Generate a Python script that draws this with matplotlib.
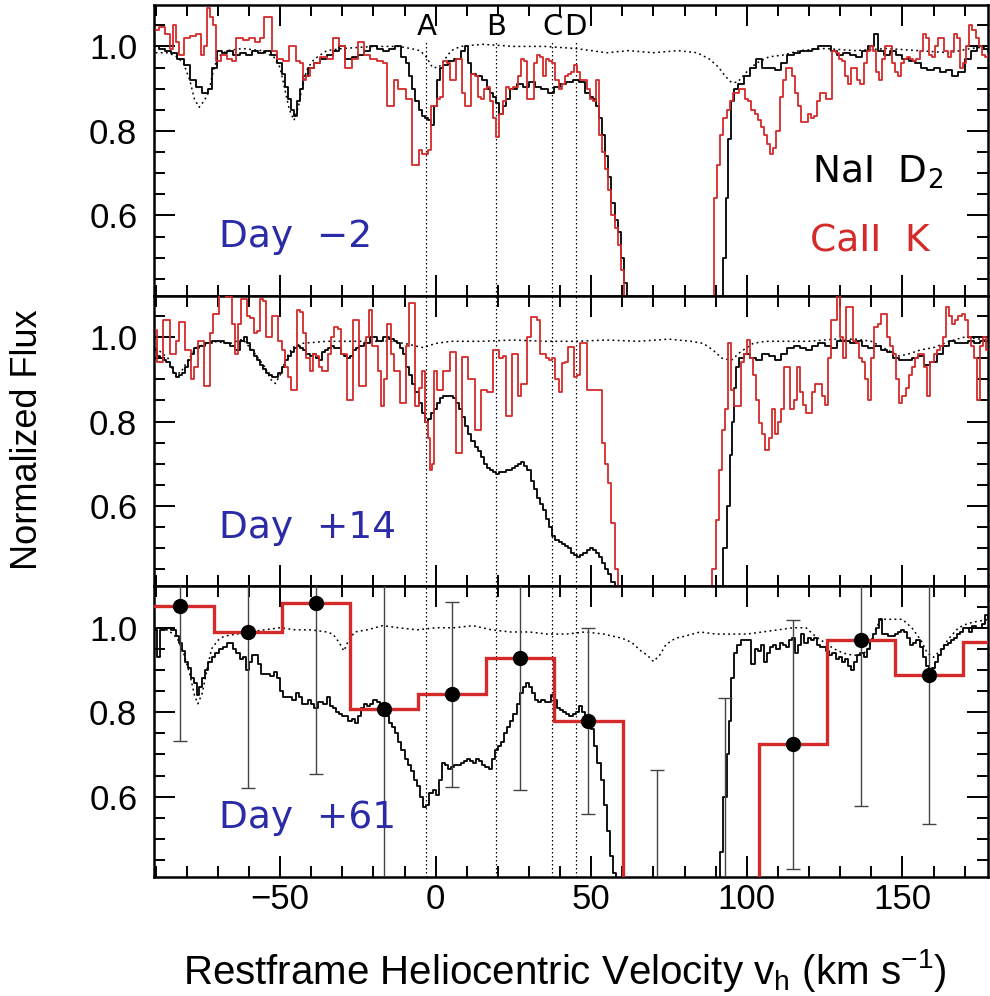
import numpy as np
import matplotlib
matplotlib.use("Agg")
import matplotlib.pyplot as plt
from matplotlib.ticker import MultipleLocator

plt.rcParams['font.family'] = ['Liberation Sans', 'DejaVu Sans']
plt.rcParams['mathtext.default'] = 'regular'

# ---------------- data (velocity km/s, normalized flux) ----------------
day_labels = ["Day  \u22122", "Day  +14", "Day  +61"]
comp_names = ["A", "B", "C", "D"]
comp_vel = [-3.0, 19.5, 37.5, 45.0]

top_nai = [(-90,1.00),(-88,0.995),(-86,0.99),(-84,0.985),(-82,0.97),(-80,0.955),(-78,0.92),(-76,0.905),(-74,0.89),(-72.5,0.90),(-71,0.95),(-69.5,0.99),(-68,0.985),(-66,0.99),(-64,0.98),(-62,0.985),(-60,0.98),(-58,0.99),(-56,0.985),(-54,0.99),(-52,0.98),(-50,0.96),(-49,0.935),(-48,0.905),(-47,0.875),(-46,0.85),(-45,0.835),(-44,0.87),(-43,0.90),(-42,0.93),(-40,0.95),(-38,0.96),(-36,0.97),(-34,0.98),(-32,0.99),(-30,1.00),(-28,0.97),(-26,0.975),(-24,0.98),(-22,0.99),(-20,1.00),(-18,0.995),(-16,0.99),(-14,0.995),(-12,1.00),(-10,0.975),(-9,0.96),(-8,0.93),(-7,0.90),(-6,0.87),(-5,0.85),(-4,0.835),(-3,0.83),(-2,0.825),(-1,0.815),(0,0.86),(1,0.92),(2,0.95),(3,0.955),(5,0.965),(7,0.97),(9,0.99),(10,1.00),(11,0.96),(12,0.935),(14,0.93),(16,0.92),(17,0.90),(18,0.89),(19,0.88),(20,0.865),(21,0.84),(22,0.86),(23,0.875),(25,0.90),(27,0.91),(29,0.905),(31,0.915),(33,0.905),(35,0.90),(37,0.89),(39,0.905),(41,0.91),(43,0.915),(45,0.92),(47,0.915),(49,0.89),(50,0.88),(51,0.875),(52,0.86),(53,0.83),(54,0.79),(55,0.74),(56,0.69),(57,0.63),(58,0.59),(59,0.56),(60,0.50),(61,0.44),(62,0.38),(63,0.30),(65,0.10),(90,0.10),(92,0.30),(93,0.50),(93.5,0.64),(94.5,0.78),(95.5,0.87),(96.5,0.90),(98,0.91),(100,0.93),(102,0.95),(104,0.97),(106,0.95),(108,0.95),(110,0.945),(112,0.96),(114,0.98),(116,0.985),(118,0.99),(120,0.99),(122,0.995),(124,1.0),(126,1.0),(128,0.99),(130,0.98),(132,0.985),(134,0.98),(136,0.975),(138,0.99),(140,1.0),(141.5,1.03),(143,0.99),(145,0.98),(147,0.99),(149,0.98),(151,0.97),(153,0.965),(155,0.96),(157,0.95),(159,0.945),(161,0.95),(163,0.94),(165,0.945),(167,0.93),(169,0.94),(171,0.97),(173,0.99),(175,1.0),(177,0.995),(178,0.99)]

top_cak = [(-90,1.04),(-88,1.045),(-86,1.03),(-85,0.995),(-84,1.05),(-83,1.01),(-82,0.98),(-80,1.02),(-78,1.025),(-76,1.03),(-75,0.98),(-74,1.0),(-73,1.09),(-72,1.07),(-71,1.05),(-70,0.965),(-68,0.98),(-66,0.97),(-65,0.965),(-63,1.02),(-61,1.015),(-59,1.02),(-57,1.01),(-56,1.02),(-54,1.07),(-53,1.07),(-52,0.99),(-50,0.97),(-48,0.965),(-46,1.00),(-44,0.965),(-43,0.96),(-42,0.92),(-41,0.93),(-40,0.95),(-38,0.96),(-36,0.975),(-34,0.97),(-32,1.02),(-30,1.00),(-28,0.95),(-26,0.97),(-24,1.01),(-22,0.98),(-20,0.97),(-18,0.965),(-16,0.96),(-15,0.86),(-14,0.86),(-13,0.92),(-11,0.90),(-10,0.90),(-9,0.875),(-8,0.875),(-7,0.72),(-6,0.72),(-5,0.755),(-4,0.745),(-3,0.745),(-2,0.755),(-1,0.86),(0,0.86),(1,0.875),(2,0.88),(3,0.965),(4,0.96),(5,0.92),(6,0.92),(7,0.97),(8,0.97),(9,0.89),(10,0.86),(11,0.86),(12,0.935),(13,0.93),(14,0.88),(15,0.875),(16,0.90),(17,0.905),(18,0.87),(19,0.83),(20,0.785),(21,0.84),(22,0.87),(23,0.905),(24,0.90),(26,0.905),(27,0.93),(28,0.97),(29,0.965),(30,0.875),(31,0.875),(32,0.96),(33,0.98),(34,0.975),(35,0.93),(36,0.97),(37,0.965),(38,0.96),(39,0.92),(40,0.90),(41,0.91),(42,0.93),(43,0.935),(44,0.94),(45,0.955),(46,0.94),(47,0.92),(48,0.92),(49,0.90),(50,0.875),(51,0.87),(52,0.92),(53,0.79),(54,0.75),(55,0.71),(56,0.66),(57,0.60),(58,0.57),(59,0.53),(60,0.47),(61,0.40),(62,0.20),(89,0.20),(90,0.64),(91,0.72),(92,0.79),(93,0.83),(94,0.85),(95,0.87),(96,0.89),(97,0.89),(98,0.90),(99,0.90),(100,0.875),(101,0.87),(102,0.85),(103,0.84),(104,0.825),(105,0.81),(106,0.79),(107,0.77),(108,0.745),(109,0.76),(110,0.80),(111,0.88),(112,0.92),(113,0.95),(114,0.95),(115,0.93),(116,0.89),(117,0.86),(118,0.82),(119,0.82),(120,0.84),(121,0.83),(122,0.835),(123,0.87),(124,0.89),(125,0.89),(126,0.875),(127,0.875),(128,0.99),(129,0.985),(130,0.97),(131,0.965),(132,0.93),(133,0.91),(134,0.95),(135,0.95),(136,0.92),(137,0.91),(138,0.96),(139,0.99),(140,1.0),(141,0.99),(142,0.94),(143,0.92),(144,0.97),(145,1.0),(146,1.0),(147,0.96),(148,0.94),(149,0.93),(150,0.96),(151,0.97),(152,0.975),(153,0.97),(154,0.965),(155,0.97),(156,0.99),(157,1.03),(158,1.02),(159,0.98),(160,0.975),(161,1.0),(162,1.02),(163,1.02),(164,0.99),(165,0.975),(166,0.99),(167,1.03),(168,1.02),(169,0.95),(170,0.96),(171,1.0),(172,1.05),(173,1.04),(174,1.02),(175,1.0),(176,0.98),(177,0.975),(178,0.98)]

top_tmpl = [(-90,0.985),(-86,0.985),(-83,0.975),(-81,0.96),(-79,0.92),(-77.5,0.875),(-76,0.856),(-74.5,0.87),(-73,0.89),(-71.5,0.94),(-70,0.975),(-67,0.99),(-62,0.995),(-56,0.99),(-52,0.975),(-50,0.95),(-48.5,0.90),(-47,0.85),(-45.5,0.825),(-44,0.86),(-42.5,0.92),(-41,0.95),(-39,0.97),(-35,0.99),(-30,0.995),(-20,1.0),(-12,1.0),(-8,0.995),(-5,0.99),(-3,0.975),(-1,0.95),(1,0.95),(3,0.97),(5,0.99),(8,1.0),(15,1.005),(25,1.0),(35,1.0),(45,0.995),(50,0.99),(55,0.985),(62,0.99),(70,0.985),(78,0.99),(84,0.985),(88,0.97),(91,0.95),(93,0.93),(95,0.915),(97,0.915),(100,0.94),(103,0.96),(107,0.975),(112,0.98),(117,0.99),(125,0.995),(135,0.99),(145,0.995),(155,0.99),(165,0.985),(172,0.995),(178,1.0)]

mid_nai = [(-90,0.97),(-89,0.955),(-88,0.95),(-87,0.945),(-86,0.94),(-85,0.93),(-84,0.915),(-83,0.905),(-82,0.91),(-81,0.915),(-80,0.93),(-79,0.945),(-78,0.96),(-77,0.975),(-75,0.98),(-73,0.985),(-71,0.99),(-69,0.99),(-67,0.985),(-65,0.98),(-64,0.97),(-62,0.99),(-61,1.0),(-60,0.985),(-59,0.97),(-58,0.955),(-57,0.945),(-56,0.935),(-55,0.925),(-54,0.915),(-53,0.91),(-52,0.905),(-51,0.905),(-50,0.915),(-49,0.93),(-48,0.945),(-47,0.955),(-46,0.965),(-45,0.975),(-44,0.98),(-43,0.975),(-42,0.97),(-41,0.96),(-40,0.955),(-39,0.96),(-38,0.95),(-37,0.945),(-36,0.965),(-35,0.97),(-34,0.975),(-33,0.98),(-32,0.975),(-31,0.975),(-30,0.96),(-29,0.955),(-28,0.95),(-27,0.955),(-26,0.97),(-25,0.975),(-24,0.98),(-22,0.985),(-20,1.0),(-18,0.99),(-16,1.0),(-14,0.995),(-13,0.99),(-12,0.985),(-11,0.975),(-10,0.96),(-9,0.93),(-8,0.91),(-7,0.89),(-6,0.87),(-5,0.845),(-4,0.82),(-3,0.80),(-2,0.805),(-1,0.82),(0,0.83),(1,0.845),(2,0.855),(3,0.86),(4,0.86),(5,0.86),(6,0.855),(7,0.845),(8,0.83),(9,0.81),(10,0.79),(11,0.77),(12,0.755),(13,0.74),(14,0.73),(15,0.715),(16,0.70),(17,0.69),(18,0.685),(19,0.68),(20,0.675),(21,0.68),(22,0.68),(23,0.685),(24,0.685),(25,0.69),(26,0.695),(27,0.70),(28,0.705),(29,0.695),(30,0.685),(31,0.66),(32,0.64),(33,0.62),(34,0.605),(35,0.59),(36,0.57),(37,0.55),(38,0.53),(39,0.52),(40,0.515),(41,0.51),(42,0.505),(43,0.50),(44,0.49),(45,0.485),(46,0.48),(47,0.485),(48,0.49),(49,0.495),(50,0.50),(51,0.495),(52,0.49),(53,0.48),(54,0.465),(55,0.45),(56,0.44),(57,0.42),(58,0.38),(59,0.30),(90,0.30),(92,0.35),(93,0.50),(94,0.60),(95,0.72),(95.5,0.80),(96,0.88),(97,0.93),(98,0.95),(100,0.96),(102,0.95),(104,0.945),(106,0.96),(108,0.955),(110,0.945),(112,0.96),(114,0.975),(116,0.98),(118,0.975),(120,0.97),(122,0.98),(124,0.985),(126,0.98),(128,0.975),(130,0.99),(132,0.99),(134,0.985),(136,0.99),(138,0.98),(140,0.975),(142,0.98),(144,0.97),(146,0.965),(148,0.95),(150,0.945),(152,0.945),(154,0.95),(156,0.955),(158,0.935),(160,0.94),(162,0.96),(164,0.98),(166,0.99),(168,0.985),(170,0.985),(172,0.99),(174,0.985),(176,0.99),(178,0.99)]

mid_cak = [(-90,1.017),(-89,0.94),(-88,0.94),(-87,1.04),(-86,1.04),(-85,0.96),(-84,0.96),(-83,0.99),(-82,1.035),(-81,1.035),(-80,0.97),(-79,0.97),(-78,0.90),(-77,0.93),(-76,0.99),(-75,0.99),(-74,0.885),(-73,0.885),(-72,1.01),(-71,1.055),(-70,1.055),(-69,1.11),(-68,1.11),(-67,1.095),(-66,1.095),(-65,1.03),(-64,0.96),(-63,1.03),(-62,1.09),(-61,1.09),(-60,1.05),(-59,1.045),(-58,1.01),(-57,1.015),(-56,1.09),(-55,1.085),(-54,1.0),(-53,1.0),(-52,1.05),(-51,1.05),(-50,0.99),(-49,0.97),(-48,0.93),(-47,0.905),(-46,0.875),(-45,0.875),(-44,1.063),(-43,1.06),(-42,1.01),(-41,0.95),(-40,0.92),(-39,0.96),(-38,0.955),(-37,0.93),(-36,0.92),(-35,0.92),(-34,0.96),(-33,1.0),(-32,1.024),(-31,1.02),(-30,0.96),(-29,0.96),(-28,0.85),(-27,0.85),(-26,1.04),(-25,1.04),(-24,0.885),(-23,0.885),(-22,1.0),(-21,1.063),(-20,0.98),(-19,0.98),(-18,0.92),(-17,0.836),(-16,0.90),(-15.5,1.032),(-15,1.03),(-14,0.96),(-13,0.92),(-12,0.92),(-11,0.844),(-10,0.844),(-9,0.98),(-8,1.08),(-7,1.08),(-6,0.836),(-5,0.88),(-4,0.92),(-3,0.80),(-2,0.76),(-1.5,0.686),(-1,0.70),(0,0.92),(1,0.875),(2,0.875),(3,0.92),(4,0.92),(5,0.965),(6,0.965),(7,0.725),(8,0.725),(9,0.954),(10,0.954),(11,0.90),(12,0.90),(13,0.78),(14,0.78),(15,0.875),(16,0.875),(17,0.87),(18,0.87),(19,0.97),(20,0.97),(21,0.95),(22,0.955),(23,0.812),(24,0.812),(25,0.96),(26,0.96),(27,0.86),(28,0.89),(29,0.89),(30,1.0),(31,1.048),(32,1.048),(33,1.04),(34,0.96),(35,0.96),(36,0.95),(37,0.945),(38,0.95),(39,0.90),(40,0.87),(41,0.938),(42,0.94),(43,0.977),(44,0.977),(45,0.906),(46,0.91),(47,0.985),(48,0.985),(49,0.875),(50,0.875),(51,0.875),(52,0.875),(53,0.875),(54,0.749),(55,0.70),(56,0.655),(57,0.56),(58,0.45),(59,0.30),(88,0.30),(89.5,0.45),(90.5,0.568),(91.5,0.686),(92.5,0.78),(93.5,0.83),(94.5,0.985),(95.5,0.875),(96.5,0.836),(97.5,0.836),(98.5,0.94),(99.5,0.96),(100.5,0.993),(101.5,0.95),(102.5,0.91),(103.5,0.85),(104.5,0.796),(105.5,0.77),(106.5,0.733),(107.5,0.76),(108.5,0.83),(109.5,0.77),(110.5,0.80),(111.5,0.83),(112.5,0.93),(113.5,0.93),(114.5,0.83),(115.5,0.85),(116.5,0.93),(117.5,0.87),(118.5,0.84),(119.5,0.82),(120.5,0.82),(121.5,0.87),(122.5,0.89),(123.5,0.89),(124.5,0.86),(125.5,0.84),(126.5,0.95),(127.5,1.04),(128.5,1.04),(129.5,1.11),(130.5,1.0),(131.5,0.95),(132.5,1.07),(133.5,1.07),(134.5,0.99),(135.5,0.985),(136.5,0.95),(137.5,0.94),(138.5,0.90),(139.5,0.85),(140.5,0.95),(141.5,1.025),(142.5,1.03),(143.5,1.055),(144.5,1.055),(145.5,1.0),(146.5,0.98),(147.5,0.96),(148.5,0.90),(149.5,0.844),(150.5,0.86),(151.5,0.88),(152.5,0.91),(153.5,0.93),(154.5,0.95),(155.5,0.96),(156.5,0.96),(157.5,0.93),(158.5,0.86),(159.5,0.94),(160.5,0.96),(161.5,0.97),(162.5,0.98),(163.5,1.0),(164.5,1.07),(165.5,1.05),(166.5,1.03),(167.5,1.04),(168.5,1.05),(169.5,1.055),(170.5,1.04),(171.5,1.0),(172.5,0.98),(173.5,0.95),(174.5,0.85),(175.5,0.98),(176.5,1.0),(177.5,0.97)]

mid_tmpl = [(-90,0.975),(-86,0.95),(-84,0.915),(-82,0.915),(-80,0.94),(-77,0.975),(-72,0.99),(-66,0.985),(-62,0.995),(-58,0.96),(-55,0.93),(-53,0.90),(-51.5,0.89),(-50,0.91),(-48,0.95),(-46,0.975),(-43,0.985),(-35,0.99),(-25,0.99),(-15,0.99),(-10,0.985),(-7,0.98),(-4,0.975),(0,0.985),(5,0.99),(15,0.99),(25,0.993),(35,0.99),(45,0.99),(55,0.993),(65,0.99),(75,0.995),(82,0.99),(86,0.985),(89,0.97),(92,0.95),(95,0.945),(98,0.965),(102,0.985),(106,0.99),(112,0.99),(120,0.99),(128,0.995),(135,0.995),(140,0.99),(145,0.97),(149,0.955),(152,0.96),(156,0.97),(160,0.975),(165,0.99),(170,1.0),(175,0.995),(178,0.99)]

bot_nai = [(-90,0.995),(-89,0.93),(-88,0.995),(-86,1.0),(-84,0.995),(-83,0.98),(-82,0.965),(-81,0.945),(-80,0.92),(-79,0.905),(-78,0.88),(-77,0.87),(-76.5,0.84),(-75.5,0.86),(-74.5,0.88),(-73.5,0.90),(-72.5,0.92),(-71.5,0.93),(-70.5,0.94),(-69,0.95),(-67.5,0.955),(-66.5,0.965),(-65.5,0.965),(-64.5,0.95),(-63.5,0.94),(-62.5,0.925),(-61.5,0.93),(-60.5,0.90),(-59.5,0.92),(-58.5,0.935),(-57.5,0.935),(-56.5,0.915),(-55.5,0.89),(-54,0.89),(-52.5,0.885),(-51.5,0.895),(-50.5,0.88),(-49.5,0.85),(-48.5,0.835),(-47,0.835),(-45.5,0.83),(-44.5,0.845),(-43.5,0.835),(-42.5,0.82),(-41.5,0.82),(-40.5,0.83),(-39.5,0.82),(-38.5,0.81),(-37,0.825),(-35.5,0.82),(-34.5,0.835),(-33.5,0.815),(-32.5,0.81),(-31.5,0.80),(-30.5,0.795),(-29.5,0.79),(-28.5,0.79),(-27.5,0.78),(-26.5,0.785),(-25.5,0.775),(-24.5,0.79),(-23.5,0.81),(-22.5,0.82),(-21.5,0.815),(-20.5,0.82),(-19.5,0.83),(-18.5,0.825),(-17.5,0.82),(-16.5,0.80),(-15.5,0.79),(-14.5,0.775),(-13.5,0.765),(-12.5,0.75),(-11.5,0.73),(-10.5,0.71),(-9.5,0.69),(-8.5,0.675),(-7.5,0.66),(-6.5,0.64),(-5.5,0.625),(-4.5,0.60),(-3.5,0.575),(-2.5,0.58),(-1.5,0.61),(-0.5,0.615),(0.5,0.605),(1.5,0.64),(2.5,0.68),(3.5,0.675),(4.5,0.665),(5.5,0.67),(6.5,0.675),(7.5,0.675),(8.5,0.68),(9.5,0.685),(10.5,0.69),(11.5,0.685),(12.5,0.68),(13.5,0.69),(14.5,0.685),(15.5,0.675),(16.5,0.67),(17.5,0.665),(18.5,0.69),(19.5,0.71),(20.5,0.72),(21.5,0.73),(22.5,0.75),(23.5,0.765),(24.5,0.78),(25.5,0.795),(26.5,0.82),(27.5,0.845),(28.5,0.86),(29.5,0.87),(30.5,0.86),(31.5,0.845),(32.5,0.83),(33.5,0.825),(34.5,0.83),(35.5,0.825),(36.5,0.825),(37.5,0.84),(38.5,0.83),(39.5,0.81),(40.5,0.805),(41.5,0.80),(42.5,0.795),(43.5,0.79),(44.5,0.795),(45.5,0.80),(46.5,0.815),(47.5,0.80),(48.5,0.79),(49.5,0.78),(50.5,0.76),(51.5,0.72),(52.5,0.68),(53.5,0.64),(54.5,0.58),(55.5,0.52),(56.5,0.46),(57.5,0.42),(58.5,0.30),(91,0.30),(92,0.47),(93,0.60),(94,0.70),(94.5,0.78),(95.5,0.88),(96.5,0.94),(97.5,0.96),(98.5,0.97),(100,0.97),(101,0.97),(102,0.915),(103,0.95),(104,0.945),(105,0.96),(106,0.92),(107,0.94),(108,0.955),(109,0.96),(110,0.95),(111,0.965),(112,0.96),(113,0.955),(114,0.97),(115,0.975),(116,0.94),(117,0.96),(118,0.985),(119,0.965),(120,0.975),(121,0.97),(122,0.975),(123,0.96),(124,0.955),(125,0.955),(126,0.945),(127,0.935),(128,0.94),(129,0.925),(130,0.93),(131,0.92),(132,0.925),(133,0.91),(134,0.90),(135,0.92),(136,0.935),(137,0.94),(138,0.93),(139,0.95),(140,0.97),(141,0.985),(142,1.0),(143,1.02),(144,0.985),(145,0.985),(146,0.98),(147,0.98),(148,0.985),(149,0.99),(150,0.995),(151,0.99),(152,0.975),(153,0.96),(154,0.965),(155,0.97),(156,0.955),(157,0.93),(158,0.91),(159,0.90),(160,0.905),(161,0.92),(162,0.935),(163,0.95),(164,0.96),(165,0.965),(166,0.97),(167,0.975),(168,0.985),(169,0.99),(170,1.0),(171,1.0),(172,0.99),(173,1.005),(174,1.0),(175,1.0),(176,1.01),(177,1.03),(178,1.02)]

bot_tmpl = [(-90,0.995),(-86,0.995),(-83,0.975),(-81,0.94),(-79,0.89),(-77.5,0.84),(-76.4,0.82),(-75,0.845),(-73.5,0.90),(-72,0.95),(-70,0.97),(-68,0.98),(-64,0.985),(-60,0.99),(-55,0.995),(-50,1.0),(-45,0.995),(-40,0.995),(-35,0.99),(-33,0.985),(-31,0.965),(-29.5,0.945),(-28,0.97),(-26,0.99),(-22,0.995),(-17,1.005),(-12,1.0),(-6,0.995),(0,1.0),(6,1.0),(12,1.005),(18,0.995),(24,0.99),(30,0.99),(36,0.985),(42,0.985),(48,0.99),(54,0.985),(60,0.975),(63,0.965),(66,0.945),(68,0.935),(70,0.92),(72,0.935),(74,0.96),(77,0.975),(80,0.98),(85,0.99),(90,0.985),(95,0.985),(100,0.985),(105,0.99),(110,0.995),(115,1.0),(119,1.0),(122,0.98),(125,0.965),(128,0.95),(131,0.94),(134,0.935),(137,0.935),(139,0.95),(141,0.99),(143,1.02),(147,1.02),(150,1.02),(153,1.0),(156,0.97),(158,0.94),(160,0.93),(162,0.945),(165,0.975),(168,1.0),(171,1.01),(174,1.015),(178,1.02)]

# binned Ca II K (Day +61)
bin_vel = [-82.3, -60.4, -38.5, -16.6, 5.3, 27.2, 49.1, 71.0, 92.9, 114.8, 136.7, 158.6, 180.5]
bin_flux = [1.052, 0.99, 1.058, 0.808, 0.842, 0.929, 0.779, 0.25, 0.35, 0.724, 0.972, 0.887, 0.967]
bin_err = [0.32, 0.37, 0.405, 0.45, 0.22, 0.313, 0.22, 0.413, 0.484, 0.295, 0.393, 0.352, 0.35]

# ---------------- styling ----------------
RED = '#d42a2a'
BLUE = '#2b2ba8'
XLIM = (-90.5, 177.5)
YLIM = (0.41, 1.098)

fig = plt.figure(figsize=(9.9, 9.96), dpi=100)
left, right = 154/990, 988/990
top, bottom = 1 - 5/996, 1 - 877/996
ph = (top - bottom) / 3
axes = [fig.add_axes([left, top - (i+1)*ph, right - left, ph]) for i in range(3)]

def arr(pairs):
    a = np.array(pairs, dtype=float)
    return a[:, 0], a[:, 1]

panels = [
    (top_nai, top_cak, top_tmpl),
    (mid_nai, mid_cak, mid_tmpl),
    (bot_nai, None, bot_tmpl),
]

for i, (ax, (nai, cak, tmpl)) in enumerate(zip(axes, panels)):
    vt, ft = arr(tmpl)
    ax.plot(vt, ft, color='black', ls=(0, (1.2, 2.2)), lw=1.1, zorder=2)
    if cak is not None:
        vc, fc = arr(cak)
        ax.step(vc, fc, where='mid', color=RED, lw=1.3, zorder=4)
    vn, fn = arr(nai)
    ax.step(vn, fn, where='mid', color='black', lw=1.3, zorder=3)

    # component markers
    for v in comp_vel:
        if i == 0:
            ax.plot([v, v], [YLIM[0], 1.01], color='black', ls=(0, (1.2, 2.0)), lw=0.9, zorder=1)
        else:
            ax.axvline(v, color='black', ls=(0, (1.2, 2.0)), lw=0.9, zorder=1)

    ax.text(-69.5, 0.525, day_labels[i], color=BLUE, fontsize=27,
            ha='left', va='baseline', family=['DejaVu Sans'], zorder=6)

    ax.set_xlim(*XLIM)
    ax.set_ylim(*YLIM)
    ax.xaxis.set_major_locator(MultipleLocator(50))
    ax.xaxis.set_minor_locator(MultipleLocator(10))
    ax.yaxis.set_major_locator(MultipleLocator(0.2))
    ax.yaxis.set_minor_locator(MultipleLocator(0.05))
    ax.tick_params(which='both', direction='in', top=True, right=True, width=1.4)
    ax.tick_params(which='major', length=15, labelsize=25)
    ax.tick_params(axis='y', which='major', pad=12)
    ax.tick_params(axis='x', which='major', pad=4)
    ax.tick_params(which='minor', length=8)
    ax.set_yticks([0.6, 0.8, 1.0])
    ax.set_yticklabels(['0.6', '0.8', '1.0'])
    for s in ax.spines.values():
        s.set_linewidth(1.8)
    if i < 2:
        ax.tick_params(labelbottom=False)

# letters for components
for name, v in zip(comp_names, comp_vel):
    axes[0].text(v, 1.045, name, ha='center', va='center', fontsize=21,
                 family=['DejaVu Sans'], color='black')

axes[0].text(121, 0.677, r"NaI  D$_2$", color='black', fontsize=27,
             ha='left', va='baseline', family=['DejaVu Sans'])
axes[0].text(120.3, 0.514, "CaII  K", color=RED, fontsize=27,
             ha='left', va='baseline', family=['DejaVu Sans'])

# binned Ca II K in bottom panel
ax = axes[2]
bv = np.array(bin_vel)
w = np.mean(np.diff(bv))
edges = np.concatenate([bv - w/2, [bv[-1] + w/2]])
ax.stairs(bin_flux, edges, color=RED, lw=2.4, zorder=4, baseline=None)
ax.errorbar(bin_vel, bin_flux, yerr=bin_err, fmt='o', color='black', ms=10,
            ecolor='#444444', elinewidth=1.0, capsize=5, capthick=1.0, zorder=5)
ax.set_xticks([-50, 0, 50, 100, 150])
ax.set_xticklabels(['\u221250', '0', '50', '100', '150'])

fig.text(28/990, 1 - 440/996, "Normalized Flux", rotation=90, ha='center', va='center', fontsize=26)
fig.text(565/990, 1 - 970/996, r"Restframe Heliocentric Velocity v$_h$ (km s$^{-1}$)",
         ha='center', va='center', fontsize=29)

fig.savefig('out.png', dpi=100)
